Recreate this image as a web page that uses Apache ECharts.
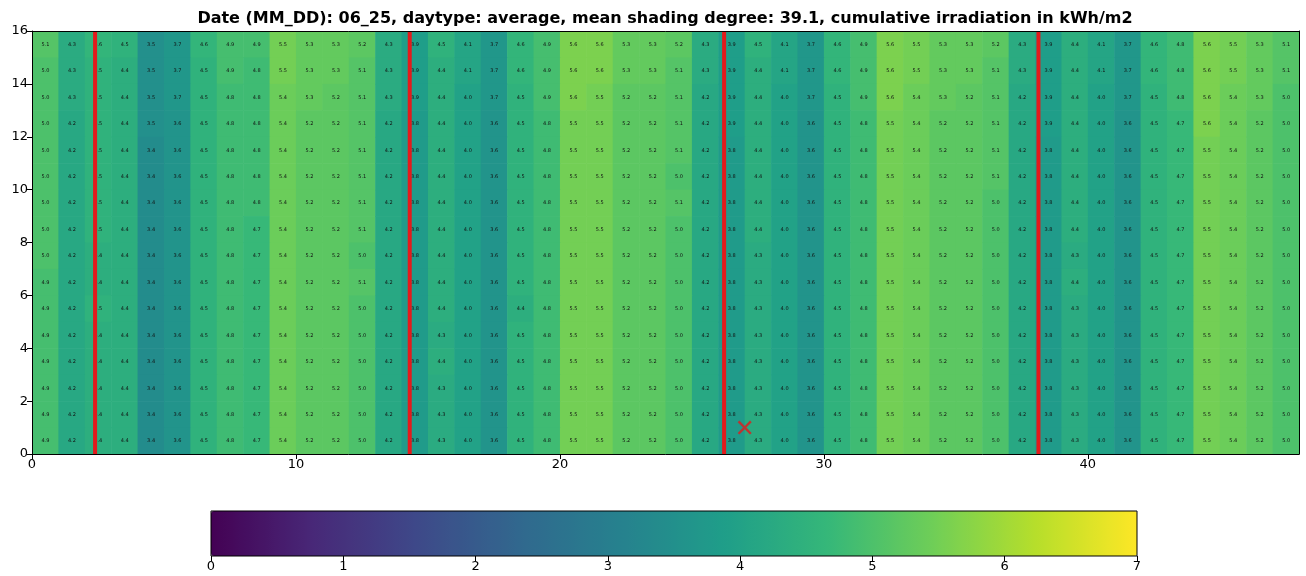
<!DOCTYPE html>
<html><head><meta charset="utf-8">
<script src="https://cdn.jsdelivr.net/npm/echarts@6/dist/echarts.min.js"></script>
<style>html,body{margin:0;padding:0;background:#fff}#c{width:1306px;height:576px}</style>
</head><body><div id="c"></div>
<script>
// Cumulative irradiation per cell, one array per row (y = 15 at top ... y = 0 at bottom), columns x = 0..47
const row15 = [5.1,4.3,4.6,4.5,3.5,3.7,4.6,4.9, 4.9,5.5,5.3,5.3,5.2,4.3,3.9,4.5, 4.1,3.7,4.6,4.9,5.6,5.6,5.3,5.3, 5.2,4.3,3.9,4.5,4.1,3.7,4.6,4.9, 5.6,5.5,5.3,5.3,5.2,4.3,3.9,4.4, 4.1,3.7,4.6,4.8,5.6,5.5,5.3,5.1];
const row14 = [5.0,4.3,4.5,4.4,3.5,3.7,4.5,4.9, 4.8,5.5,5.3,5.3,5.1,4.3,3.9,4.4, 4.1,3.7,4.6,4.9,5.6,5.6,5.3,5.3, 5.1,4.3,3.9,4.4,4.1,3.7,4.6,4.9, 5.6,5.5,5.3,5.3,5.1,4.3,3.9,4.4, 4.1,3.7,4.6,4.8,5.6,5.5,5.3,5.1];
const row13 = [5.0,4.3,4.5,4.4,3.5,3.7,4.5,4.8, 4.8,5.4,5.3,5.2,5.1,4.3,3.9,4.4, 4.0,3.7,4.5,4.9,5.6,5.5,5.2,5.2, 5.1,4.2,3.9,4.4,4.0,3.7,4.5,4.9, 5.6,5.4,5.3,5.2,5.1,4.2,3.9,4.4, 4.0,3.7,4.5,4.8,5.6,5.4,5.3,5.0];
const row12 = [5.0,4.2,4.5,4.4,3.5,3.6,4.5,4.8, 4.8,5.4,5.2,5.2,5.1,4.2,3.8,4.4, 4.0,3.6,4.5,4.8,5.5,5.5,5.2,5.2, 5.1,4.2,3.9,4.4,4.0,3.6,4.5,4.8, 5.5,5.4,5.2,5.2,5.1,4.2,3.9,4.4, 4.0,3.6,4.5,4.7,5.6,5.4,5.2,5.0];
const row11 = [5.0,4.2,4.5,4.4,3.4,3.6,4.5,4.8, 4.8,5.4,5.2,5.2,5.1,4.2,3.8,4.4, 4.0,3.6,4.5,4.8,5.5,5.5,5.2,5.2, 5.1,4.2,3.8,4.4,4.0,3.6,4.5,4.8, 5.5,5.4,5.2,5.2,5.1,4.2,3.8,4.4, 4.0,3.6,4.5,4.7,5.5,5.4,5.2,5.0];
const row10 = [5.0,4.2,4.5,4.4,3.4,3.6,4.5,4.8, 4.8,5.4,5.2,5.2,5.1,4.2,3.8,4.4, 4.0,3.6,4.5,4.8,5.5,5.5,5.2,5.2, 5.0,4.2,3.8,4.4,4.0,3.6,4.5,4.8, 5.5,5.4,5.2,5.2,5.1,4.2,3.8,4.4, 4.0,3.6,4.5,4.7,5.5,5.4,5.2,5.0];
const row9  = [5.0,4.2,4.5,4.4,3.4,3.6,4.5,4.8, 4.8,5.4,5.2,5.2,5.1,4.2,3.8,4.4, 4.0,3.6,4.5,4.8,5.5,5.5,5.2,5.2, 5.1,4.2,3.8,4.4,4.0,3.6,4.5,4.8, 5.5,5.4,5.2,5.2,5.0,4.2,3.8,4.4, 4.0,3.6,4.5,4.7,5.5,5.4,5.2,5.0];
const row8  = [5.0,4.2,4.5,4.4,3.4,3.6,4.5,4.8, 4.7,5.4,5.2,5.2,5.1,4.2,3.8,4.4, 4.0,3.6,4.5,4.8,5.5,5.5,5.2,5.2, 5.0,4.2,3.8,4.4,4.0,3.6,4.5,4.8, 5.5,5.4,5.2,5.2,5.0,4.2,3.8,4.4, 4.0,3.6,4.5,4.7,5.5,5.4,5.2,5.0];
const row7  = [5.0,4.2,4.4,4.4,3.4,3.6,4.5,4.8, 4.7,5.4,5.2,5.2,5.0,4.2,3.8,4.4, 4.0,3.6,4.5,4.8,5.5,5.5,5.2,5.2, 5.0,4.2,3.8,4.3,4.0,3.6,4.5,4.8, 5.5,5.4,5.2,5.2,5.0,4.2,3.8,4.3, 4.0,3.6,4.5,4.7,5.5,5.4,5.2,5.0];
const row6  = [4.9,4.2,4.4,4.4,3.4,3.6,4.5,4.8, 4.7,5.4,5.2,5.2,5.1,4.2,3.8,4.4, 4.0,3.6,4.5,4.8,5.5,5.5,5.2,5.2, 5.0,4.2,3.8,4.3,4.0,3.6,4.5,4.8, 5.5,5.4,5.2,5.2,5.0,4.2,3.8,4.4, 4.0,3.6,4.5,4.7,5.5,5.4,5.2,5.0];
const row5  = [4.9,4.2,4.5,4.4,3.4,3.6,4.5,4.8, 4.7,5.4,5.2,5.2,5.0,4.2,3.8,4.4, 4.0,3.6,4.4,4.8,5.5,5.5,5.2,5.2, 5.0,4.2,3.8,4.3,4.0,3.6,4.5,4.8, 5.5,5.4,5.2,5.2,5.0,4.2,3.8,4.3, 4.0,3.6,4.5,4.7,5.5,5.4,5.2,5.0];
const row4  = [4.9,4.2,4.4,4.4,3.4,3.6,4.5,4.8, 4.7,5.4,5.2,5.2,5.0,4.2,3.8,4.3, 4.0,3.6,4.5,4.8,5.5,5.5,5.2,5.2, 5.0,4.2,3.8,4.3,4.0,3.6,4.5,4.8, 5.5,5.4,5.2,5.2,5.0,4.2,3.8,4.3, 4.0,3.6,4.5,4.7,5.5,5.4,5.2,5.0];
const row3  = [4.9,4.2,4.4,4.4,3.4,3.6,4.5,4.8, 4.7,5.4,5.2,5.2,5.0,4.2,3.8,4.4, 4.0,3.6,4.5,4.8,5.5,5.5,5.2,5.2, 5.0,4.2,3.8,4.3,4.0,3.6,4.5,4.8, 5.5,5.4,5.2,5.2,5.0,4.2,3.8,4.3, 4.0,3.6,4.5,4.7,5.5,5.4,5.2,5.0];
const row2  = [4.9,4.2,4.4,4.4,3.4,3.6,4.5,4.8, 4.7,5.4,5.2,5.2,5.0,4.2,3.8,4.3, 4.0,3.6,4.5,4.8,5.5,5.5,5.2,5.2, 5.0,4.2,3.8,4.3,4.0,3.6,4.5,4.8, 5.5,5.4,5.2,5.2,5.0,4.2,3.8,4.3, 4.0,3.6,4.5,4.7,5.5,5.4,5.2,5.0];
const row1  = [4.9,4.2,4.4,4.4,3.4,3.6,4.5,4.8, 4.7,5.4,5.2,5.2,5.0,4.2,3.8,4.3, 4.0,3.6,4.5,4.8,5.5,5.5,5.2,5.2, 5.0,4.2,3.8,4.3,4.0,3.6,4.5,4.8, 5.5,5.4,5.2,5.2,5.0,4.2,3.8,4.3, 4.0,3.6,4.5,4.7,5.5,5.4,5.2,5.0];
const row0  = [4.9,4.2,4.4,4.4,3.4,3.6,4.5,4.8, 4.7,5.4,5.2,5.2,5.0,4.2,3.8,4.3, 4.0,3.6,4.5,4.8,5.5,5.5,5.2,5.2, 5.0,4.2,3.8,4.3,4.0,3.6,4.5,4.8, 5.5,5.4,5.2,5.2,5.0,4.2,3.8,4.3, 4.0,3.6,4.5,4.7,5.5,5.4,5.2,5.0];

const redLineX = [2.39, 14.31, 26.22, 38.13];
const markerPoint = [27, 1];
const xTicks = [0, 10, 20, 30, 40];
const yTicks = [0, 2, 4, 6, 8, 10, 12, 14, 16];
const colorbarTicks = [0, 1, 2, 3, 4, 5, 6, 7];
const viridis = ['#440154','#482878','#3e4989','#31688e','#26828e','#1f9e89','#35b779','#6ece58','#b5de2b','#fde725'];
const titleText = 'Date (MM_DD): 06_25, daytype: average, mean shading degree: 39.1, cumulative irradiation in kWh/m2';

const rowsTopDown = [row15,row14,row13,row12,row11,row10,row9,row8,row7,row6,row5,row4,row3,row2,row1,row0];
const cells = [];
rowsTopDown.forEach((row, i) => {
  const y = rowsTopDown.length - 1 - i;
  row.forEach((v, x) => cells.push([x, y, v]));
});

const FONT = 'DejaVu Sans';
const chart = echarts.init(document.getElementById('c'), null, {renderer: 'canvas'});

const series = [{
  type: 'custom',
  xAxisIndex: 0, yAxisIndex: 0,
  data: cells,
  encode: {x: 0, y: 1},
  renderItem: function (params, api) {
    const x = api.value(0), y = api.value(1);
    const p0 = api.coord([x, y + 1]);
    const p1 = api.coord([x + 1, y]);
    return {
      type: 'rect',
      shape: {x: p0[0], y: p0[1], width: p1[0] - p0[0] + 0.6, height: p1[1] - p0[1] + 0.6},
      style: {fill: api.visual('color')},
      textContent: {style: {text: api.value(2).toFixed(1), fontSize: 5, fontFamily: FONT, fill: '#111'}},
      textConfig: {position: 'inside'}
    };
  },
  z: 2
}];
redLineX.forEach(xv => {
  series.push({
    type: 'line', xAxisIndex: 0, yAxisIndex: 0,
    data: [[xv, 0], [xv, 16]],
    symbol: 'none', silent: true,
    lineStyle: {color: '#e31a1c', width: 4, cap: 'butt'},
    z: 4
  });
});
series.push({
  type: 'scatter', xAxisIndex: 0, yAxisIndex: 0,
  data: [markerPoint],
  symbol: 'path://M0,1.2 L1.2,0 L5,3.8 L8.8,0 L10,1.2 L6.2,5 L10,8.8 L8.8,10 L5,6.2 L1.2,10 L0,8.8 L3.8,5 Z',
  symbolSize: 14,
  itemStyle: {color: '#e31a1c'},
  z: 5
});

const axisText = {fontFamily: FONT, fontSize: 13, color: '#000'};
chart.setOption({
  animation: false,
  backgroundColor: '#fff',
  title: {
    text: titleText, left: 665, top: 11, textAlign: 'center', padding: 0,
    textStyle: {fontFamily: FONT, fontSize: 16, fontWeight: 'bold', color: '#000'}
  },
  grid: [
    {left: 32, right: 7, top: 31, bottom: 122, containLabel: false},
    {left: 211, width: 926, top: 511, height: 45, show: true, borderColor: '#000', borderWidth: 1, backgroundColor: 'transparent', z: 10}
  ],
  visualMap: {
    type: 'continuous', seriesIndex: 0, dimension: 2,
    min: 0, max: 7, calculable: false, hoverLink: false,
    orient: 'horizontal', left: 211, top: 511, padding: 0,
    itemWidth: 45, itemHeight: 926, text: null,
    inRange: {color: viridis}
  },
  xAxis: [
    {type: 'value', gridIndex: 0, min: 0, max: 48, position: 'bottom', z: 6,
     axisLine: {show: true, onZero: false, lineStyle: {color: '#000', width: 1}},
     axisTick: {show: true, length: 5, lineStyle: {color: '#000'}, customValues: xTicks},
     axisLabel: Object.assign({margin: 4, customValues: xTicks}, axisText),
     splitLine: {show: false}},
    {type: 'value', gridIndex: 0, min: 0, max: 48, position: 'top', z: 6,
     axisLine: {show: true, onZero: false, lineStyle: {color: '#000', width: 1}},
     axisTick: {show: false}, axisLabel: {show: false}, splitLine: {show: false}},
    {type: 'value', gridIndex: 1, min: 0, max: 7, interval: 1, position: 'bottom', z: 11,
     axisLine: {show: false, onZero: false},
     axisTick: {show: true, length: 5, lineStyle: {color: '#000'}, customValues: colorbarTicks},
     axisLabel: Object.assign({margin: 4, customValues: colorbarTicks}, axisText),
     splitLine: {show: false}}
  ],
  yAxis: [
    {type: 'value', gridIndex: 0, min: 0, max: 16, interval: 2, position: 'left', z: 6,
     axisLine: {show: true, onZero: false, lineStyle: {color: '#000', width: 1}},
     axisTick: {show: true, length: 5, lineStyle: {color: '#000'}, customValues: yTicks},
     axisLabel: Object.assign({margin: 4, customValues: yTicks}, axisText),
     splitLine: {show: false}},
    {type: 'value', gridIndex: 0, min: 0, max: 16, position: 'right', z: 6,
     axisLine: {show: true, onZero: false, lineStyle: {color: '#000', width: 1}},
     axisTick: {show: false}, axisLabel: {show: false}, splitLine: {show: false}},
    {type: 'value', gridIndex: 1, min: 0, max: 1, show: false}
  ],
  series: series
});
</script>
</body></html>
